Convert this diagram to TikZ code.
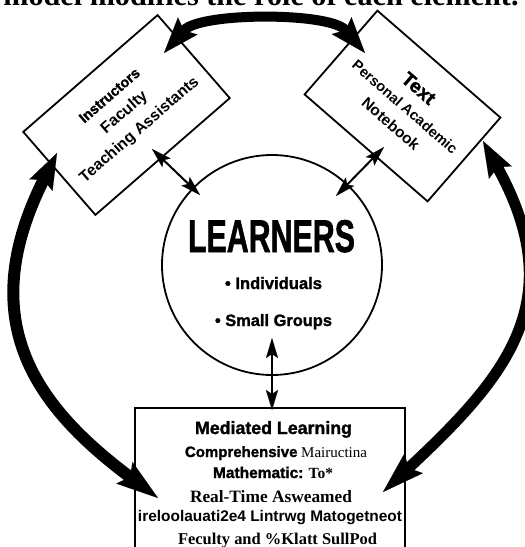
\documentclass[tikz,border=0pt]{standalone}
\usepackage{fontspec}
\setmainfont{Liberation Serif}
\setsansfont{Liberation Sans}
\newfontfamily\heavysans[UprightFont={* Bold},FakeBold=1.5]{Liberation Sans}
\usetikzlibrary{arrows.meta,calc}

% scale a piece of text to a given width (in pt)
\newcommand{\fitw}[2]{\resizebox{#1pt}{!}{#2}}

\begin{document}
\begin{tikzpicture}[x=1pt,y=-1pt,
  frame/.style={draw=black, line width=1.8pt, inner sep=0pt},
  bighead/.tip={Stealth[length=36pt,width=26pt,inset=6pt,line width=0.1pt]},
  longhead/.tip={Stealth[length=42pt,width=27pt,inset=7pt,line width=0.1pt]},
  smallhead/.tip={Stealth[length=20pt,width=12pt,inset=4pt,line width=0.1pt]},
  bigarrow/.style={line width=10pt, bighead-bighead},
  sidearrow/.style={line width=#1, bighead-longhead},
  smallarrow/.style={line width=2pt, smallhead-smallhead},
  lbl/.style={inner sep=0pt, font=\sffamily\bfseries},
  txt/.style={inner sep=0pt, anchor=base},
]
\useasboundingbox (0,0) rectangle (525,547);
\clip (0,0) rectangle (525,547);
\fill[white] (0,0) rectangle (525,547);

% heading line running off the top edge
\node[txt] (title) at (261,5) {\fitw{515}{\bfseries model modifies the role of each element.}};

% Instructors box
\begin{scope}[shift={(126.5,115)}, rotate=41, transform shape]
  \node[frame, minimum width=178pt, minimum height=110pt] (instr) at (0,0) {};
  \node[lbl] (instrA) at (0,-26) {\fitw{75}{\heavysans Instructors}};
  \node[lbl] (instrB) at (0,-3) {\fitw{56}{Faculty}};
  \node[lbl] (instrC) at (0,20) {\fitw{152}{Teaching Assistants}};
\end{scope}

% Text box
\begin{scope}[shift={(402.5,106)}, rotate=-41, transform shape]
  \node[frame, minimum width=163pt, minimum height=111pt] (text) at (0,0) {};
  \node[lbl] (textA) at (0.7,-24) {\fitw{38}{\heavysans Text}};
  \node[lbl] (textB) at (2.5,-1) {\fitw{134}{Personal Academic}};
  \node[lbl] (textC) at (3,21) {\fitw{71}{Notebook}};
\end{scope}

% Learners circle
\node[draw, circle, line width=1.8pt, minimum size=220pt, inner sep=0pt] (learners) at (272,265) {};
\node[txt] (lname) at (271.5,252) {\resizebox{167pt}{32pt}{\heavysans LEARNERS}};
\node[txt] (lind) at (273.5,289) {\fitw{97}{\heavysans \textbullet\ Individuals}};
\node[txt] (lgrp) at (273.5,326) {\fitw{117}{\heavysans \textbullet\ Small Groups}};

% Mediated learning box
\node[frame, minimum width=270pt, minimum height=170pt, anchor=north] (med) at (270,407) {};
\node[txt] (m1) at (273.5,434) {\fitw{157}{\heavysans Mediated Learning}};
\node[txt] (m2) at (276,457) {\fitw{182}{{\heavysans Comprehensive} Maiructina}};
\node[txt] (m3) at (273,478) {\fitw{120}{{\heavysans Mathematic:} \bfseries To*}};
\node[txt] (m4) at (271,502) {\fitw{162}{\bfseries Real-Time Asweamed}};
\node[txt] (m5) at (270,521) {\fitw{264}{\sffamily\bfseries ireloolauati2e4 Lintrwg Matogetneot}};
\node[txt] (m6) at (277.5,544) {\fitw{199}{\bfseries Feculty and \%Klatt SullPod}};

% ends of the connectors
\coordinate (topL) at (164,53);
\coordinate (topR) at (365,53);
\coordinate (lT) at (57,153);
\coordinate (lB) at (158,498);
\coordinate (rT) at (483,141);
\coordinate (rB) at (383,492);
\coordinate (iA) at (152,149);
\coordinate (iB) at (200,195);
\coordinate (tA) at (384,147);
\coordinate (tB) at (336,196);
\coordinate (cA) at (272,338);
\coordinate (cB) at (272,410);

% large arcs between the three outer elements
\draw[bigarrow] (topL) .. controls (200,12) and (330,12) .. (topR);
\draw[sidearrow=12pt] (lT) .. controls (-28,323) and (38,408) .. (lB);
\draw[sidearrow=11pt] (rT) .. controls (571,301) and (507,376) .. (rB);

% short links to the learners
\draw[smallarrow] (iA) -- (iB);
\draw[smallarrow] (tA) -- (tB);
\draw[smallarrow] (cA) -- (cB);
\end{tikzpicture}
\end{document}
